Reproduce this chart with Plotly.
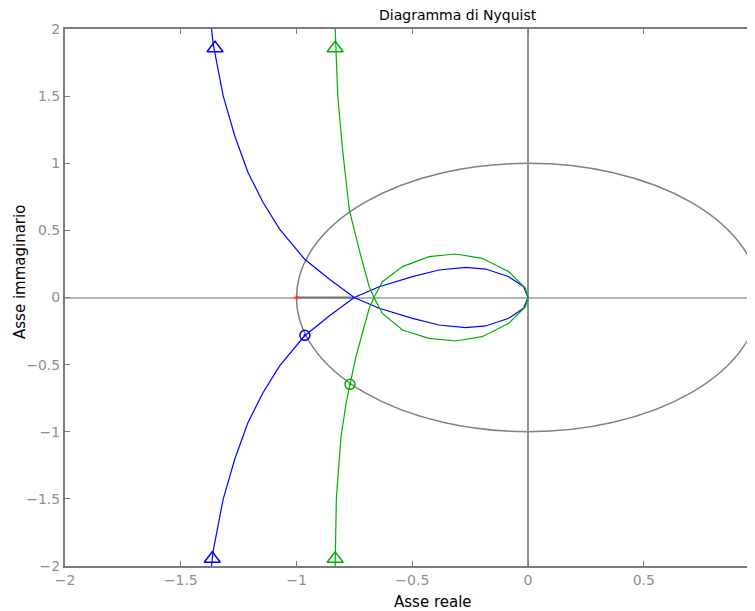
import plotly.graph_objects as go

# Blue Nyquist curve (positive-frequency branch, from top-left into the origin)
blue_pos_re = [-1.367, -1.360, -1.317, -1.267, -1.210, -1.145, -1.073, -0.966, -0.859, -0.751,
               -0.643, -0.499, -0.385, -0.269, -0.183, -0.083, -0.019, 0.0]
blue_pos_im = [2.0, 1.888, 1.503, 1.205, 0.933, 0.709, 0.510, 0.287, 0.138, 0.0,
               -0.080, -0.155, -0.205, -0.225, -0.212, -0.155, -0.080, 0.0]
# Blue negative-frequency branch (from bottom-left into the origin)
blue_neg_re = [-1.367, -1.360, -1.317, -1.267, -1.210, -1.145, -1.073, -0.966, -0.859, -0.751,
               -0.643, -0.499, -0.385, -0.269, -0.183, -0.083, -0.019, 0.0]
blue_neg_im = [-2.0, -1.888, -1.503, -1.205, -0.933, -0.709, -0.510, -0.287, -0.138, 0.0,
               0.080, 0.155, 0.205, 0.225, 0.212, 0.155, 0.080, 0.0]

# Green Nyquist curve
green_pos_re = [-0.833, -0.822, -0.801, -0.772, -0.729, -0.686, -0.664, -0.629, -0.542,
                -0.428, -0.313, -0.198, -0.083, -0.011, 0.0]
green_pos_im = [2.0, 1.503, 1.099, 0.652, 0.354, 0.080, -0.006, -0.118, -0.242,
                -0.304, -0.324, -0.292, -0.192, -0.069, 0.0]
green_neg_re = [-0.833, -0.828, -0.808, -0.786, -0.769, -0.744, -0.686, -0.664, -0.629, -0.542,
                -0.428, -0.313, -0.198, -0.083, -0.011, 0.0]
green_neg_im = [-2.0, -1.495, -1.039, -0.790, -0.647, -0.445, -0.080, 0.006, 0.118, 0.230,
                0.304, 0.324, 0.292, 0.192, 0.069, 0.0]

# Triangle markers at the ends of the plotted frequency range
blue_tri_re = [-1.352, -1.364]
blue_tri_im = [1.856, -1.946]
green_tri_re = [-0.833, -0.833]
green_tri_im = [1.856, -1.946]

# Phase-margin crossing points on the unit circle
blue_pm_re, blue_pm_im = [-0.964], [-0.282]
green_pm_re, green_pm_im = [-0.769], [-0.647]

# Gain-margin segment and critical point
gm_re, gm_im = [-1.0, -0.751], [0.0, 0.0]
crit_re, crit_im = [-1.0], [0.0]

x_ticks = [-2, -1.5, -1, -0.5, 0, 0.5]
y_ticks = [-2, -1.5, -1, -0.5, 0, 0.5, 1, 1.5, 2]

BLUE = "#0000ff"
GREEN = "#00b000"
GRAY = "#7a7a7a"

fig = go.Figure()

fig.add_shape(type="circle", xref="x", yref="y", x0=-1, y0=-1, x1=1, y1=1,
              line=dict(color="#808080", width=1.5), layer="below")

fig.add_trace(go.Scatter(x=gm_re, y=gm_im, mode="lines",
                         line=dict(color="#767676", width=2), hoverinfo="skip"))
fig.add_trace(go.Scatter(x=crit_re, y=crit_im, mode="markers",
                         marker=dict(symbol="cross-thin", size=4, color="#ff3030",
                                     line=dict(color="#ff3030", width=1.5))))

for re, im, col in [(blue_pos_re, blue_pos_im, BLUE), (blue_neg_re, blue_neg_im, BLUE),
                    (green_pos_re, green_pos_im, GREEN), (green_neg_re, green_neg_im, GREEN)]:
    fig.add_trace(go.Scatter(x=re, y=im, mode="lines", line=dict(color=col, width=1.2)))

for re, im, col in [(blue_tri_re, blue_tri_im, BLUE), (green_tri_re, green_tri_im, GREEN)]:
    fig.add_trace(go.Scatter(x=re, y=im, mode="markers",
                             marker=dict(symbol="triangle-up-open", size=14, color=col,
                                         line=dict(color=col, width=1.5))))

for re, im, col in [(blue_pm_re, blue_pm_im, BLUE), (green_pm_re, green_pm_im, GREEN)]:
    fig.add_trace(go.Scatter(x=re, y=im, mode="markers",
                             marker=dict(symbol="circle-open-dot", size=10, color=col,
                                         line=dict(color=col, width=1.5))))

axis_common = dict(showgrid=False, ticks="inside", ticklen=5, tickcolor=GRAY, tickwidth=1,
                   showline=True, linecolor=GRAY, linewidth=2, mirror="ticks",
                   tickfont=dict(family="DejaVu Sans", size=14, color="#8f8f8f"))

fig.update_xaxes(range=[-2, 0.9716], tickvals=x_ticks,
                 ticktext=["\u22122", "\u22121.5", "\u22121", "\u22120.5", "0", "0.5"],
                 zeroline=True, zerolinecolor="#909090", zerolinewidth=1.5, **axis_common)
fig.update_yaxes(range=[-2, 2], tickvals=y_ticks,
                 ticktext=["\u22122", "\u22121.5", "\u22121", "\u22120.5", "0", "0.5", "1", "1.5", "2"],
                 zeroline=True, zerolinecolor="#b4b4b4", zerolinewidth=2, **axis_common)

# The page body has an 8px default margin, so the figure is sized to fit within 755x611
fig.update_layout(
    width=747, height=603,
    margin=dict(l=57, r=0, t=21, b=45),
    plot_bgcolor="white", paper_bgcolor="white",
    showlegend=False,
    annotations=[
        dict(text="Diagramma di Nyquist", xref="paper", yref="paper",
             x=(459 - 65) / 690, y=1, yshift=4, xanchor="center", yanchor="bottom",
             showarrow=False, font=dict(family="DejaVu Sans", size=14, color="#000000")),
        dict(text="Asse reale", xref="paper", yref="paper",
             x=(434 - 65) / 690, y=0, yshift=-25, xanchor="center", yanchor="top",
             showarrow=False, font=dict(family="DejaVu Sans", size=15, color="#000000")),
        dict(text="Asse immaginario", xref="paper", yref="paper",
             x=0, xshift=-45, y=(566 - 272) / 537, textangle=-90,
             xanchor="center", yanchor="middle",
             showarrow=False, font=dict(family="DejaVu Sans", size=15, color="#000000")),
    ],
)

fig.write_html("out.html")
